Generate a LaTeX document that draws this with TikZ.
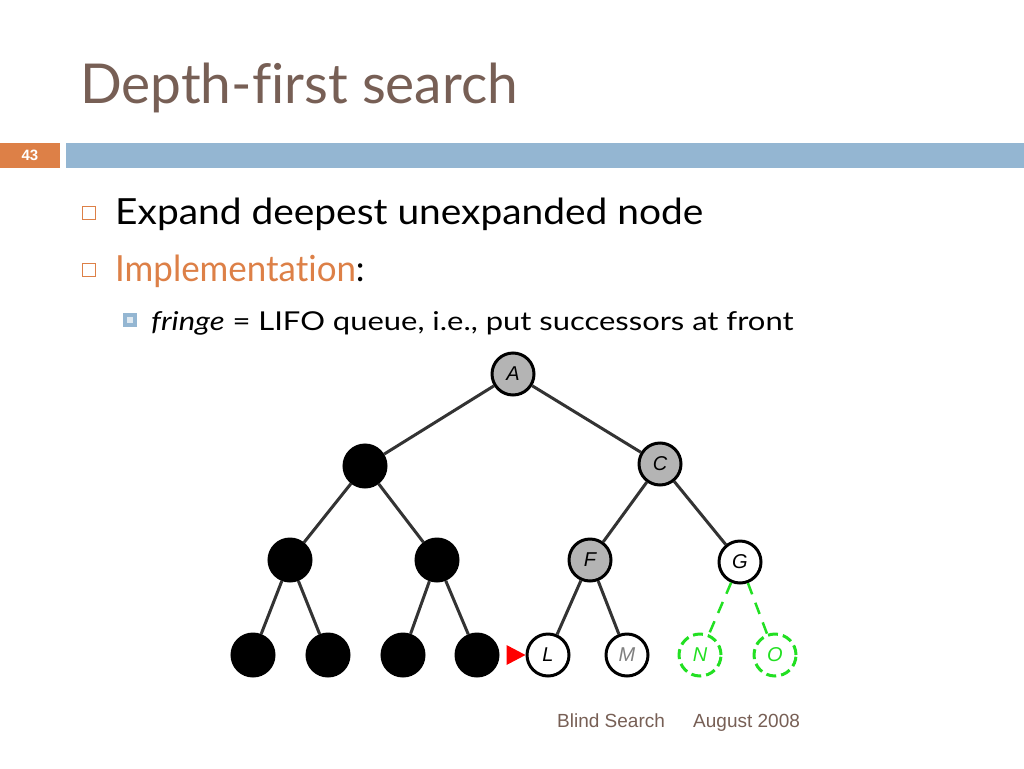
\documentclass[tikz,border=0pt]{standalone}
\usepackage{fontspec}
\setmainfont[Ligatures=NoCommon]{Lato}
\newfontfamily\footfont{Liberation Sans}
\usetikzlibrary{shapes.geometric}
\definecolor{titlebrown}{HTML}{775F55}
\definecolor{accorange}{HTML}{DD8047}
\definecolor{accblue}{HTML}{94B6D2}
\definecolor{nodegray}{HTML}{B4B4B4}
\definecolor{edgegray}{HTML}{333333}
\definecolor{fringegreen}{HTML}{22E022}
\tikzset{
  tnode/.style={circle, minimum size=42pt, inner sep=0pt, line width=3pt, font=\footfont\itshape\fontsize{20}{20}\selectfont},
  done/.style={tnode, draw=black, fill=black},
  open/.style={tnode, draw=black, fill=nodegray},
  front/.style={tnode, draw=black, fill=white},
  fresh/.style={tnode, draw=fringegreen, dash pattern=on 10pt off 5pt, text=fringegreen},
  edge/.style={draw=edgegray, line width=3pt},
  gedge/.style={draw=fringegreen, line width=2.5pt, dash pattern=on 12pt off 9pt},
  hollowbullet/.style={draw=accorange, line width=1.5pt, fill=white},
}
\begin{document}
\begin{tikzpicture}[x=1pt,y=-1pt]
\useasboundingbox[fill=white] (0,0) rectangle (1024,768);
% title
\node[anchor=base west, inner sep=0pt, text=titlebrown, font=\fontsize{55}{55}\selectfont] (title) at (80,103) {Depth-first search};
% header bars
\fill[accorange] (0,143) rectangle (60,168);
\node[text=white, font=\footfont\bfseries\fontsize{15}{15}\selectfont] (num) at (30,155.5) {43};
\fill[accblue] (66,143) rectangle (1024,168);
% bullets
\draw[hollowbullet] (82.5,206.5) rectangle (95.5,219.5);
\node[anchor=base west, inner sep=0pt, font=\fontsize{36}{36}\selectfont] (b1) at (115,224) {\scalebox{1.08}[1]{Expand deepest unexpanded node}};
\draw[hollowbullet] (82.5,263.5) rectangle (95.5,276.5);
\node[anchor=base west, inner sep=0pt, font=\fontsize{36}{36}\selectfont] (b2) at (115,281) {\scalebox{0.97}[1]{\textcolor{accorange}{Implementation}:}};
\fill[accblue] (123,313) rectangle (137,327);
\fill[white!70!accblue] (127,317) rectangle (133,323);
\node[anchor=base west, inner sep=0pt, font=\fontsize{26}{26}\selectfont] (b3) at (151,330) {\scalebox{1.19}[1]{\textit{fringe} = LIFO queue, i.e., put successors at front}};
% tree
\node[open] (A) at (513,374) {A};
\node[done] (B) at (365,466) {};
\node[open] (C) at (660,464) {C};
\node[done] (D) at (290,560) {};
\node[done] (E) at (437,560) {};
\node[open] (F) at (590,560) {F};
\node[front] (G) at (740,562) {G};
\node[done] (H) at (253,655) {};
\node[done] (I) at (328,655) {};
\node[done] (J) at (403,655) {};
\node[done] (K) at (477,655) {};
\node[front] (L) at (548,655) {L};
\node[front, text=gray] (M) at (627,655) {M};
\node[fresh] (N) at (700,655) {N};
\node[fresh] (O) at (775,655) {O};
\draw[edge] (A) -- (B);
\draw[edge] (A) -- (C);
\draw[edge] (B) -- (D);
\draw[edge] (B) -- (E);
\draw[edge] (C) -- (F);
\draw[edge] (C) -- (G);
\draw[edge] (D) -- (H);
\draw[edge] (D) -- (I);
\draw[edge] (E) -- (J);
\draw[edge] (E) -- (K);
\draw[edge] (F) -- (L);
\draw[edge] (F) -- (M);
\draw[gedge] (G) -- (N);
\draw[gedge] (G) -- (O);
% pointer
\coordinate (ptip) at (L.west);
\fill[red] (ptip) -- ++(-19,-10) -- ++(0,20) -- cycle;
% footer
\node[anchor=base west, inner sep=0pt, text=titlebrown, font=\footfont\fontsize{19}{19}\selectfont] (f1) at (557,727) {Blind Search};
\node[anchor=base west, inner sep=0pt, text=titlebrown, font=\footfont\fontsize{19}{19}\selectfont] (f2) at (693,727) {August 2008};
\end{tikzpicture}
\end{document}
